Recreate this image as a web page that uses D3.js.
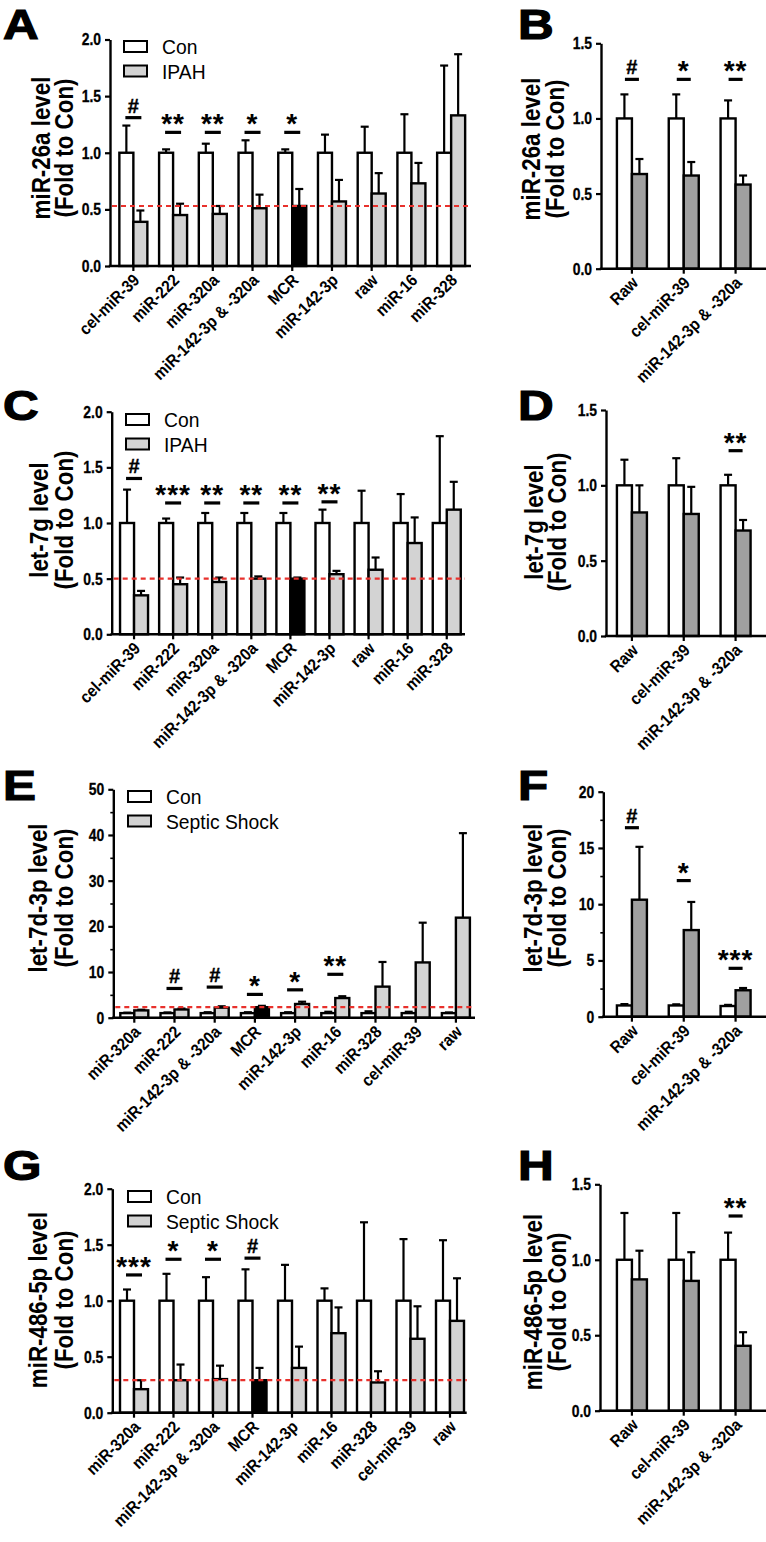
<!DOCTYPE html>
<html><head><meta charset="utf-8">
<script src="https://cdn.jsdelivr.net/npm/d3@7/dist/d3.min.js"></script>
<style>
body{margin:0;background:#fff;}
svg text{font-family:"Liberation Sans",Arial,Helvetica,sans-serif;fill:#000;}
</style></head><body>
<svg id="chart" width="766" height="1542"></svg>
<script>
// ---------------- DATA ----------------
const catsA = ["cel-miR-39","miR-222","miR-320a","miR-142-3p & -320a","MCR","miR-142-3p","raw","miR-16","miR-328"];
const conA = [1,1,1,1,1,1,1,1,1];
const conErrA = [0.24,0.03,0.08,0.11,0.03,0.16,0.23,0.34,0.77];
const ipahA = [0.39,0.45,0.46,0.51,0.53,0.57,0.64,0.73,1.33];
const ipahErrA = [0.10,0.10,0.07,0.12,0.15,0.19,0.18,0.18,0.54];
const sigA = ["#","**","**","*","*","","","",""];
const sigLevelA = [1.31,1.18,1.18,1.18,1.18,0,0,0,0];
const refA = 0.53;

const catsB = ["Raw","cel-miR-39","miR-142-3p & -320a"];
const conB = [1,1,1];
const conErrB = [0.16,0.16,0.12];
const ipahB = [0.63,0.62,0.56];
const ipahErrB = [0.10,0.09,0.06];
const sigB = ["#","*","**"];
const sigLevelB = [1.26,1.26,1.26];

const catsC = ["cel-miR-39","miR-222","miR-320a","miR-142-3p & -320a","MCR","miR-142-3p","raw","miR-16","miR-328"];
const conC = [1,1,1,1,1,1,1,1,1];
const conErrC = [0.30,0.04,0.09,0.09,0.09,0.12,0.29,0.26,0.78];
const ipahC = [0.35,0.45,0.47,0.50,0.50,0.54,0.58,0.82,1.12];
const ipahErrC = [0.04,0.06,0.04,0.02,0.01,0.03,0.11,0.23,0.25];
const sigC = ["#","***","**","**","**","**","","",""];
const sigLevelC = [1.40,1.18,1.18,1.18,1.18,1.19,0,0,0];
const refC = 0.50;

const catsD = ["Raw","cel-miR-39","miR-142-3p & -320a"];
const conD = [1,1,1];
const conErrD = [0.17,0.18,0.07];
const ipahD = [0.82,0.81,0.70];
const ipahErrD = [0.18,0.18,0.07];
const sigD = ["","","**"];
const sigLevelD = [0,0,1.23];

const catsE = ["miR-320a","miR-222","miR-142-3p & -320a","MCR","miR-142-3p","miR-16","miR-328","cel-miR-39","raw"];
const conE = [1,1,1,1,1,1,1,1,1];
const conErrE = [0.1,0.15,0.2,0.2,0.2,0.3,0.4,0.3,0.15];
const septicE = [1.6,1.8,2.2,2.3,3.0,4.3,6.8,12.1,21.9];
const septicErrE = [0.15,0.2,0.3,0.3,0.5,0.4,5.4,8.7,18.5];
const sigE = ["","#","#","*","*","**","","",""];
const sigLevelE = [0,6.4,6.7,5.1,6.1,9.5,0,0,0];
const refE = 2.3;

const catsF = ["Raw","cel-miR-39","miR-142-3p & -320a"];
const conF = [1.0,1.0,0.95];
const conErrF = [0.12,0.1,0.1];
const septicF = [10.4,7.7,2.35];
const septicErrF = [4.7,2.5,0.2];
const sigF = ["#","*","***"];
const sigLevelF = [16.8,12.1,4.3];

const catsG = ["miR-320a","miR-222","miR-142-3p & -320a","MCR","miR-142-3p","miR-16","miR-328","cel-miR-39","raw"];
const conG = [1,1,1,1,1,1,1,1,1];
const conErrG = [0.10,0.24,0.21,0.28,0.32,0.11,0.70,0.55,0.54];
const septicG = [0.21,0.29,0.30,0.29,0.40,0.71,0.27,0.66,0.82];
const septicErrG = [0.08,0.14,0.12,0.11,0.19,0.23,0.10,0.29,0.38];
const sigG = ["***","*","*","#","","","","",""];
const sigLevelG = [1.23,1.37,1.37,1.38,0,0,0,0,0];
const refG = 0.29;

const catsH = ["Raw","cel-miR-39","miR-142-3p & -320a"];
const conH = [1,1,1];
const conErrH = [0.31,0.31,0.18];
const septicH = [0.87,0.86,0.43];
const septicErrH = [0.19,0.19,0.09];
const sigH = ["","","**"];
const sigLevelH = [0,0,1.29];

const ticks2 = [0,0.5,1.0,1.5,2.0];
const ticks15 = [0,0.5,1.0,1.5];
const ticks50 = [0,10,20,30,40,50];
const ticks20 = [0,5,10,15,20];
const minor50 = [5,15,25,35,45];
const minor20 = [2.5,7.5,12.5,17.5];

// ---------------- LAYOUT ----------------
const LIGHT = "#d3d3d3", DARK = "#a0a0a0", RED = "#e8312c";
const FONT = '"Liberation Sans",Arial,Helvetica,sans-serif';
const panels = [
 {L:"A",lx:3,ly:39, cats:catsA,con:conA,conErr:conErrA,trt:ipahA,trtErr:ipahErrA,sig:sigA,sigLv:sigLevelA,ref:refA,
  ax:110,y0:266,yTop:39.5,yMax:2,ticks:ticks2,minor:[],fmt:".1f",xEnd:471,band:[113.5,471],bw:14,fill:LIGHT,
  ylab:["miR-26a level","(Fold to Con)"],yl1:41,yl2:64,ylc:148,leg:["Con","IPAH"],legX:124,legY:41,sw:8},
 {L:"B",lx:518,ly:39, cats:catsB,con:conB,conErr:conErrB,trt:ipahB,trtErr:ipahErrB,sig:sigB,sigLv:sigLevelB,ref:null,
  ax:601,y0:268.7,yTop:43.3,yMax:1.5,ticks:ticks15,minor:[],fmt:".1f",xEnd:766,band:[606,761.5],bw:15,fill:DARK,
  ylab:["miR-26a level","(Fold to Con)"],yl1:531,yl2:555,ylc:149,leg:null,sw:7},
 {L:"C",lx:3,ly:420, cats:catsC,con:conC,conErr:conErrC,trt:ipahC,trtErr:ipahErrC,sig:sigC,sigLv:sigLevelC,ref:refC,
  ax:111.7,y0:634.3,yTop:411.7,yMax:2,ticks:ticks2,minor:[],fmt:".1f",xEnd:465,band:[114.5,466.3],bw:14,fill:LIGHT,
  ylab:["let-7g level","(Fold to Con)"],yl1:39,yl2:64,ylc:520,leg:["Con","IPAH"],legX:126,legY:414,sw:8},
 {L:"D",lx:518,ly:420, cats:catsD,con:conD,conErr:conErrD,trt:ipahD,trtErr:ipahErrD,sig:sigD,sigLv:sigLevelD,ref:null,
  ax:606,y0:636,yTop:410,yMax:1.5,ticks:ticks15,minor:[],fmt:".1f",xEnd:766,band:[606,761.5],bw:15,fill:DARK,
  ylab:["let-7g level","(Fold to Con)"],yl1:534,yl2:557,ylc:522,leg:null,sw:7},
 {L:"E",lx:3,ly:800, cats:catsE,con:conE,conErr:conErrE,trt:septicE,trtErr:septicErrE,sig:sigE,sigLv:sigLevelE,ref:refE,
  ax:113.3,y0:1017.7,yTop:789.3,yMax:50,ticks:ticks50,minor:minor50,fmt:"d",xEnd:475,band:[114.2,476],bw:14,fill:LIGHT,
  ylab:["let-7d-3p level","(Fold to Con)"],yl1:38,yl2:64,ylc:898,leg:["Con","Septic Shock"],legX:128,legY:791,sw:8},
 {L:"F",lx:518,ly:800, cats:catsF,con:conF,conErr:conErrF,trt:septicF,trtErr:septicErrF,sig:sigF,sigLv:sigLevelF,ref:null,
  ax:603.3,y0:1016.7,yTop:791.7,yMax:20,ticks:ticks20,minor:minor20,fmt:"d",xEnd:766,band:[606,761.5],bw:15,fill:DARK,
  ylab:["let-7d-3p level","(Fold to Con)"],yl1:533,yl2:557,ylc:898,leg:null,sw:7},
 {L:"G",lx:3,ly:1180, cats:catsG,con:conG,conErr:conErrG,trt:septicG,trtErr:septicErrG,sig:sigG,sigLv:sigLevelG,ref:refG,
  ax:112.3,y0:1412.7,yTop:1188.7,yMax:2,ticks:ticks2,minor:[],fmt:".1f",xEnd:466.7,band:[114.25,469.75],bw:14,fill:LIGHT,
  ylab:["miR-486-5p level","(Fold to Con)"],yl1:38,yl2:64,ylc:1300,leg:["Con","Septic Shock"],legX:128,legY:1191,sw:8},
 {L:"H",lx:518,ly:1180, cats:catsH,con:conH,conErr:conErrH,trt:septicH,trtErr:septicErrH,sig:sigH,sigLv:sigLevelH,ref:null,
  ax:600,y0:1410.7,yTop:1184.3,yMax:1.5,ticks:ticks15,minor:[],fmt:".1f",xEnd:766,band:[606,761.5],bw:15,fill:DARK,
  ylab:["miR-486-5p level","(Fold to Con)"],yl1:533,yl2:557,ylc:1302,leg:null,sw:7}
];

const svg = d3.select("#chart");

panels.forEach(p => {
  const g = svg.append("g").attr("class","panel-"+p.L);
  const y = d3.scaleLinear().domain([0,p.yMax]).range([p.y0,p.yTop]);
  const x = d3.scaleBand().domain(p.cats).range(p.band).paddingInner(0).paddingOuter(0);
  const cx = c => x(c) + x.bandwidth()/2;
  const idx = p.cats.map((c,i)=>i);

  // panel letter
  g.append("text").attr("transform",`translate(${p.lx},${p.ly}) scale(1.15,1)`)
   .attr("font-size",43).attr("font-weight","bold")
   .attr("stroke","#000").attr("stroke-width",1.2).text(p.L);

  // y label (condensed bold)
  p.ylab.forEach((t,k)=>{
    g.append("text")
     .attr("transform",`translate(${k===0?p.yl1:p.yl2},${p.ylc}) rotate(-90) scale(0.86,1)`)
     .attr("text-anchor","middle").attr("dy","0.35em")
     .attr("font-size",26).attr("font-weight","bold").text(t);
  });

  // error bars
  const eb = g.append("g").attr("stroke","#000").attr("stroke-width",2.2).attr("fill","none");
  idx.forEach(i=>{
    const c = p.cats[i];
    const xc1 = cx(c) - p.bw/2, xc2 = cx(c) + p.bw/2;
    [[xc1,p.con[i],p.conErr[i]],[xc2,p.trt[i],p.trtErr[i]]].forEach(([xx,v,e])=>{
      eb.append("line").attr("x1",xx).attr("x2",xx).attr("y1",y(v)).attr("y2",y(v+e));
      eb.append("line").attr("x1",xx-4).attr("x2",xx+4).attr("y1",y(v+e)).attr("y2",y(v+e));
    });
  });

  // bars
  g.append("g").selectAll("rect").data(idx).join("rect")
    .attr("x",i=>cx(p.cats[i]) - p.bw).attr("y",i=>y(p.con[i]))
    .attr("width",p.bw).attr("height",i=>p.y0 - y(p.con[i]))
    .attr("fill","#fff").attr("stroke","#000").attr("stroke-width",2.4);
  g.append("g").selectAll("rect").data(idx).join("rect")
    .attr("x",i=>cx(p.cats[i])).attr("y",i=>y(p.trt[i]))
    .attr("width",p.bw).attr("height",i=>p.y0 - y(p.trt[i]))
    .attr("fill",i=>p.cats[i]==="MCR" ? "#000" : p.fill).attr("stroke","#000").attr("stroke-width",2.4);

  // reference dashed line
  if (p.ref !== null) {
    g.append("line").attr("x1",p.ax+2).attr("x2",p.xEnd).attr("y1",y(p.ref)).attr("y2",y(p.ref))
     .attr("stroke",RED).attr("stroke-width",2.2).attr("stroke-dasharray","5,4");
  }

  // significance
  idx.forEach(i=>{
    const s = p.sig[i]; if (!s) return;
    const c = cx(p.cats[i]); const yy = y(p.sigLv[i]);
    g.append("line").attr("x1",c-p.sw).attr("x2",c+p.sw).attr("y1",yy).attr("y2",yy)
      .attr("stroke","#000").attr("stroke-width",3.2);
    if (s==="#") {
      g.append("text").attr("x",c).attr("y",yy-5).attr("text-anchor","middle")
       .attr("font-size",20).attr("font-weight","bold").attr("stroke","#000").attr("stroke-width",0.4).text(s);
    } else {
      g.append("text").attr("x",c).attr("y",yy+1).attr("text-anchor","middle")
       .attr("font-size",28).attr("font-weight","bold").attr("letter-spacing",1).text(s);
    }
  });

  // y axis
  const ya = g.append("g").attr("transform",`translate(${p.ax},0)`)
    .call(d3.axisLeft(y).tickValues(p.ticks).tickFormat(d3.format(p.fmt)).tickSize(5).tickSizeOuter(0).tickPadding(4));
  ya.select(".domain").attr("stroke","#000").attr("stroke-width",2.4);
  ya.selectAll(".tick line").attr("stroke","#000").attr("stroke-width",2.2);
  ya.selectAll(".tick text").attr("x",0).attr("transform","translate(-9,0) scale(0.82,1)")
    .attr("font-size",17).attr("font-weight","bold").attr("font-family",FONT)
    .attr("stroke","#000").attr("stroke-width",0.3);
  if (p.minor.length) {
    const ym = g.append("g").attr("transform",`translate(${p.ax},0)`)
      .call(d3.axisLeft(y).tickValues(p.minor).tickFormat("").tickSize(3).tickSizeOuter(0));
    ym.select(".domain").remove();
    ym.selectAll(".tick line").attr("stroke","#000").attr("stroke-width",1.6);
  }

  // x axis
  const xa = g.append("g").attr("transform",`translate(0,${p.y0})`)
    .call(d3.axisBottom(x).tickSize(5).tickSizeOuter(0));
  xa.select(".domain").remove();
  xa.append("line").attr("x1",p.ax-1.2).attr("x2",p.xEnd).attr("y1",0).attr("y2",0)
    .attr("stroke","#000").attr("stroke-width",2.4);
  xa.selectAll(".tick line").attr("stroke","#000").attr("stroke-width",2.2);
  xa.selectAll(".tick text").attr("x",0).attr("y",0).attr("dy","0.35em")
    .attr("text-anchor","end").attr("transform","translate(3,11) rotate(-45) scale(0.9,1)")
    .attr("font-size",17).attr("font-weight","bold").attr("font-family",FONT);

  // legend
  if (p.leg) {
    p.leg.forEach((t,k)=>{
      const ly = p.legY + k*24.5;
      g.append("rect").attr("x",p.legX).attr("y",ly).attr("width",23).attr("height",11)
        .attr("fill",k===0?"#fff":p.fill).attr("stroke","#000").attr("stroke-width",2);
      g.append("text").attr("transform",`translate(${p.legX+38},${ly+5.5}) scale(0.92,1)`)
        .attr("dy","0.36em").attr("font-size",21).text(t);
    });
  }
});
</script>
</body></html>
